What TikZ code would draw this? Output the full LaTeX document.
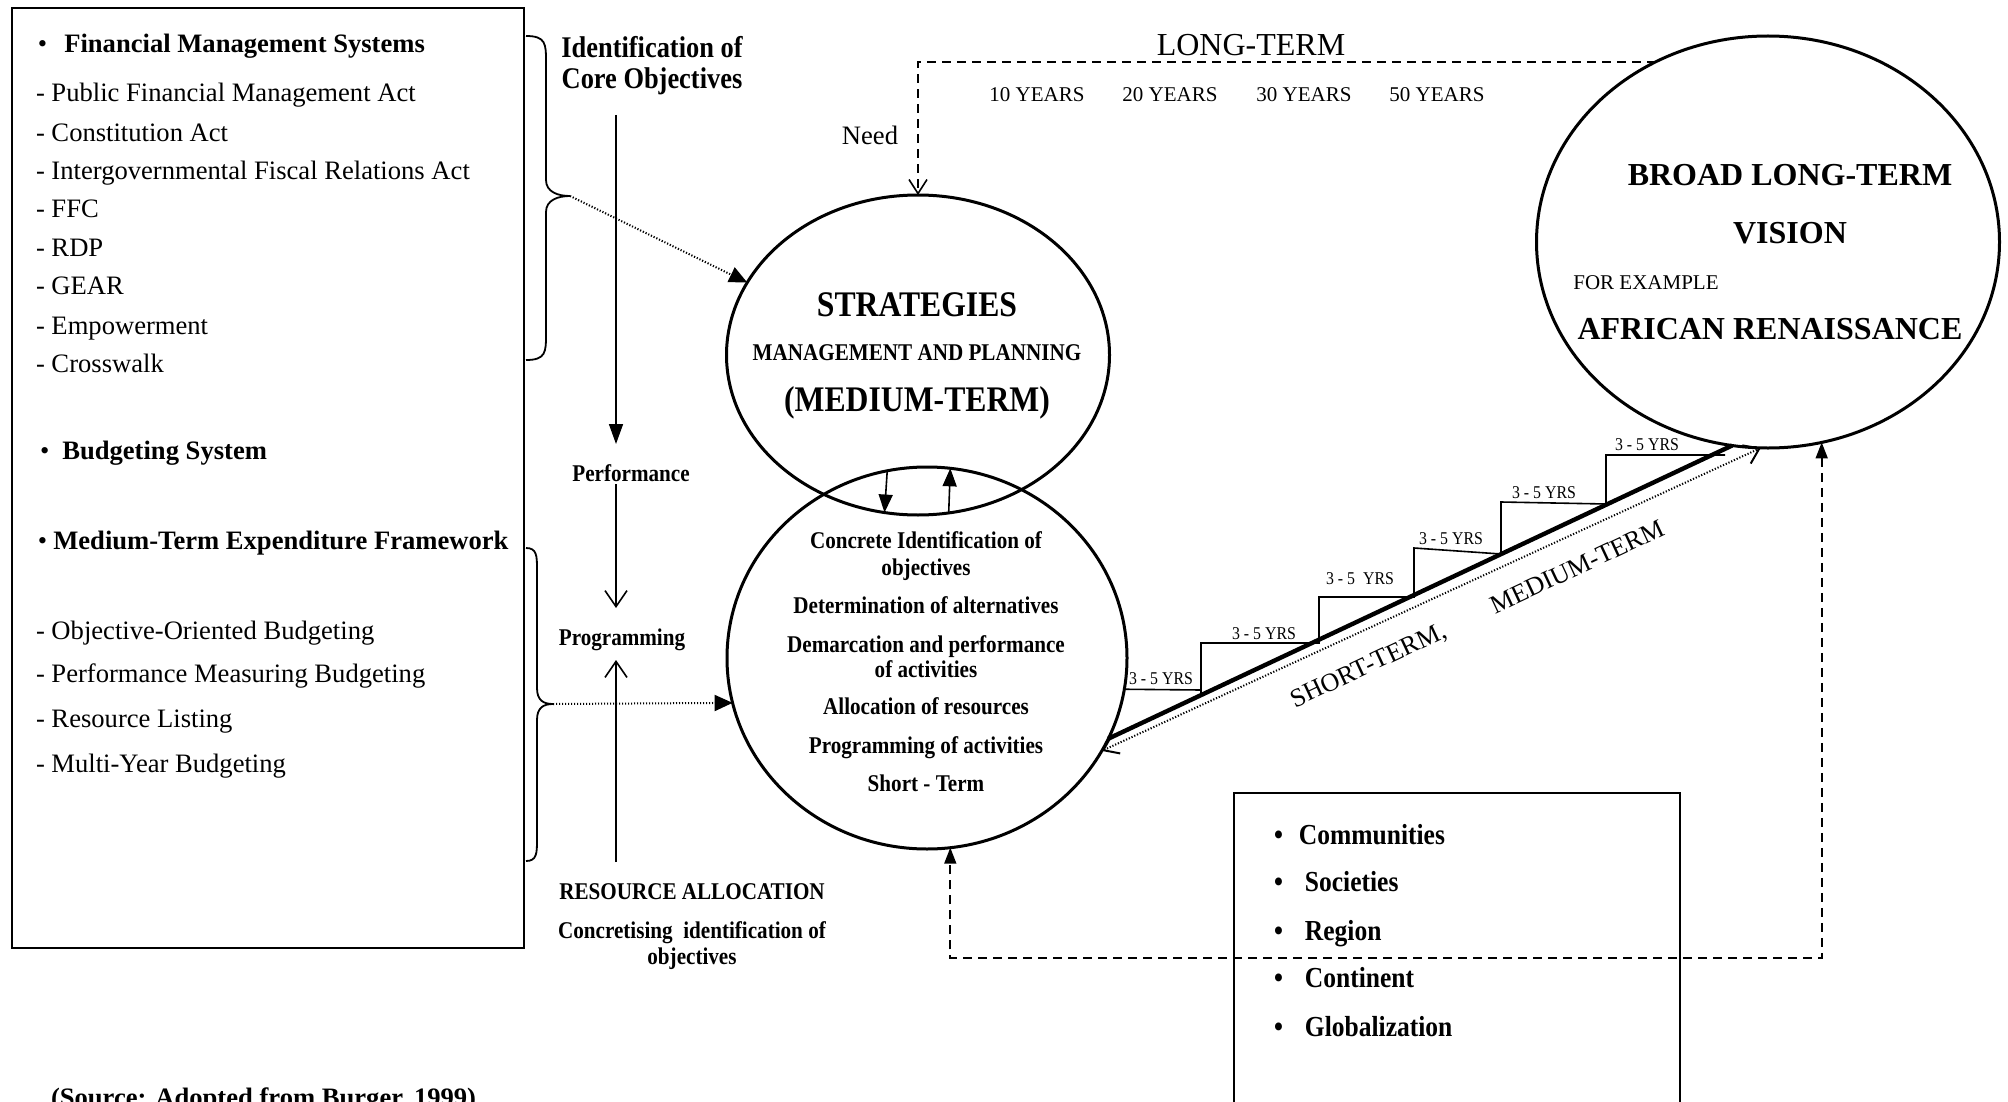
\documentclass[tikz,border=0pt]{standalone}
\usepackage{fontspec}
\setmainfont{Liberation Serif}
\newfontfamily\condfont[FakeStretch=0.88]{Liberation Serif}
\usetikzlibrary{arrows.meta,shapes.geometric}
\begin{document}
\begin{tikzpicture}[x=0.5pt,y=-0.5pt,
  every node/.style={inner sep=0pt,outer sep=0pt},
  tx/.style={anchor=mid,yshift=-2.8pt},
  lt/.style={tx,anchor=mid west,font=\fontsize{13.3}{15}\selectfont},
  cb/.style={tx,font=\condfont\bfseries\fontsize{12}{13.5}\selectfont},
  bx/.style={tx,anchor=mid west,font=\condfont\bfseries\fontsize{14.5}{16}\selectfont},
  yrs/.style={anchor=mid,font=\condfont\fontsize{9}{10}\selectfont},
  rg/.style={tx,font=\fontsize{10.5}{12}\selectfont},
  oval/.style={draw,ellipse,line width=1.5pt,inner sep=0pt,outer sep=0pt},
  frame/.style={draw,line width=1.4pt,anchor=north west,inner sep=0pt},
  dsh/.style={line width=0.8pt,dash pattern=on 4.5pt off 3pt},
  dots/.style={line width=1pt,dash pattern=on 0.6pt off 0.9pt},
  arr/.style={line width=0.8pt},
  tri/.style={-{Triangle[length=10pt,width=7pt]}},
  barb/.style={-{Straight Barb[length=8pt,width=11pt]}},
  stairs/.style={line width=0.8pt}
]
\path[use as bounding box,fill=white] (0,0) rectangle (2008,1102);

% ---------- left box ----------
\node[frame,minimum width=256pt,minimum height=470pt] (lbox) at (12,8) {};
\node[lt] (l1) at (38,42) {\textbullet\hspace{8.5pt}\textbf{Financial Management Systems}};
\node[lt] (l2) at (36,91) {- Public Financial Management Act};
\node[lt] (l3) at (36,131) {- Constitution Act};
\node[lt] (l4) at (36,169) {- Intergovernmental Fiscal Relations Act};
\node[lt] (l5) at (36,207) {- FFC};
\node[lt] (l6) at (36,246) {- RDP};
\node[lt] (l7) at (36,284) {- GEAR};
\node[lt] (l8) at (36,324) {- Empowerment};
\node[lt] (l9) at (36,362) {- Crosswalk};
\node[lt] (l10) at (40,449) {\textbullet\hspace{6.5pt}\textbf{Budgeting System}};
\node[lt] (l11) at (38,539) {\textbullet\hspace{3pt}\textbf{Medium-Term Expenditure Framework}};
\node[lt] (l12) at (36,629) {- Objective-Oriented Budgeting};
\node[lt] (l13) at (36,672) {- Performance Measuring Budgeting};
\node[lt] (l14) at (36,717) {- Resource Listing};
\node[lt] (l15) at (36,762) {- Multi-Year Budgeting};

% ---------- braces ----------
\coordinate (b1) at (570,196);
\coordinate (b2) at (553,704);
\draw[line width=0.9pt] (526,36) .. controls (546,36) and (546,44) .. (546,62) -- (546,180)
  .. controls (546,192) and (558,196) .. (b1) .. controls (558,196) and (546,200) .. (546,212)
  -- (546,334) .. controls (546,352) and (546,360) .. (526,360);
\draw[line width=0.9pt] (526,548) .. controls (537,548) and (537,556) .. (537,570) -- (537,688)
  .. controls (537,700) and (543,704) .. (b2) .. controls (543,704) and (537,708) .. (537,720)
  -- (537,839) .. controls (537,853) and (537,861) .. (526,861);

% ---------- middle column ----------
\node[tx,font=\condfont\bfseries\fontsize{15}{17}\selectfont] (idf1) at (652,47) {Identification of};
\node[tx,font=\condfont\bfseries\fontsize{15}{17}\selectfont] (idf2) at (652,78) {Core Objectives};
\node[cb] (perf) at (631,471) {Performance};
\node[cb] (prog) at (622,635) {Programming};
\node[cb] (ra) at (692,889) {RESOURCE ALLOCATION};
\node[cb] (ci1) at (692,928) {Concretising\ \ identification of};
\node[cb] (ci2) at (692,954) {objectives};
\coordinate (a1s) at (616,115);
\coordinate (a1e) at (616,444);
\coordinate (a2s) at (616,484);
\coordinate (a2e) at (616,608);
\coordinate (a3s) at (616,862);
\coordinate (a3e) at (616,660);
\draw[arr,tri] (a1s) -- (a1e);
\draw[arr,barb] (a2s) -- (a2e);
\draw[arr,barb] (a3s) -- (a3e);

% ---------- circles ----------
\node[oval,minimum width=191.5pt,minimum height=160pt] (strat) at (918,355) {};
\node[oval,minimum width=200pt,minimum height=191pt] (obj) at (927,658) {};
\node[oval,minimum width=231.5pt,minimum height=206pt] (vision) at (1768,242) {};

\node[tx,font=\condfont\bfseries\fontsize{18}{20}\selectfont] (s1) at (917,306) {STRATEGIES};
\node[cb] (s2) at (917,350) {MANAGEMENT AND PLANNING};
\node[tx,font=\condfont\bfseries\fontsize{18}{20}\selectfont] (s3) at (917,401) {(MEDIUM-TERM)};

\node[cb] (o1) at (926,538) {Concrete Identification of};
\node[cb] (o2) at (926,565) {objectives};
\node[cb] (o3) at (926,603) {Determination of alternatives};
\node[cb] (o4) at (926,642) {Demarcation and performance};
\node[cb] (o5) at (926,667) {of activities};
\node[cb] (o6) at (926,704) {Allocation of resources};
\node[cb] (o7) at (926,743) {Programming of activities};
\node[cb] (o8) at (926,781) {Short - Term};

\node[tx,font=\bfseries\fontsize{16}{18}\selectfont] (v1) at (1790,175) {BROAD LONG-TERM};
\node[tx,font=\bfseries\fontsize{16}{18}\selectfont] (v2) at (1790,233) {VISION};
\node[rg] (v3) at (1646,279) {FOR EXAMPLE};
\node[tx,font=\bfseries\fontsize{16}{18}\selectfont] (v4) at (1770,329) {AFRICAN RENAISSANCE};

% ---------- long-term ----------
\node[tx,font=\fontsize{16}{18}\selectfont] (lt) at (1251,45) {LONG-TERM};
\node[rg] (y10) at (1037,91) {10 YEARS};
\node[rg] (y20) at (1170,91) {20 YEARS};
\node[rg] (y30) at (1304,91) {30 YEARS};
\node[rg] (y50) at (1437,91) {50 YEARS};
\node[tx,font=\fontsize{13.3}{15}\selectfont] (need) at (870,134) {Need};
\draw[dsh,-{Straight Barb[length=7pt,width=9pt]}] (vision.122.6) -| (strat.north);

% ---------- connectors between circles ----------
\draw[arr,-{Triangle[length=9pt,width=7pt]}] (obj.102.1) -- (strat.258.9);
\draw[arr,-{Triangle[length=9pt,width=7pt]}] (strat.281.45) -- (obj.83.1);
\draw[dots,-{Triangle[length=9pt,width=8pt]}] (b1) -- (strat.157);
\draw[dots,-{Triangle[length=9pt,width=8pt]}] (b2) -- (obj.193.3);

% ---------- staircase ----------
\draw[line width=2.2pt] (obj.-24.25) -- (vision.-100.2);
\draw[dots,{Straight Barb[length=7pt,width=10pt]}-{Straight Barb[length=7pt,width=10pt]}] (obj.-28.3) -- (vision.-92);
\draw[stairs] (obj.-9.2) -- (1201,690);
\draw[stairs] (1201,696) -- (1201,643) -- (1319,643) -- (1319,597) -- (1414,597) -- (1414,548)
  -- (1501,554) -- (1501,502) -- (1606,504) -- (1606,455) -- (1725,455);
\node[yrs] (st1) at (1161,680) {3 - 5 YRS};
\node[yrs] (st2) at (1264,635) {3 - 5 YRS};
\node[yrs] (st3) at (1360,580) {3 - 5\ \ YRS};
\node[yrs] (st4) at (1451,540) {3 - 5 YRS};
\node[yrs] (st5) at (1544,494) {3 - 5 YRS};
\node[yrs] (st6) at (1647,446) {3 - 5 YRS};
\node[rotate=25.1,anchor=mid,font=\fontsize{13}{15}\selectfont] (stmt) at (1479,617) {SHORT-TERM,\hspace{26pt}MEDIUM-TERM};

% ---------- bottom dashed feedback ----------
\coordinate (lowy) at (0,958);
\draw[dsh,{Triangle[length=8pt,width=6pt]}-{Triangle[length=8pt,width=6pt]}] (vision.-75) -- (vision.-75 |- lowy) -| (obj.-83.4);

% ---------- bottom right box ----------
\node[frame,line width=1.3pt,minimum width=223pt,minimum height=165pt] (rbox) at (1234,793) {};
\node[bx] (c1) at (1274,834) {\textbullet\hspace{8pt}Communities};
\node[bx] (c2) at (1274,881) {\textbullet\hspace{11pt}Societies};
\node[bx] (c3) at (1274,930) {\textbullet\hspace{11pt}Region};
\node[bx] (c4) at (1274,977) {\textbullet\hspace{11pt}Continent};
\node[bx] (c5) at (1274,1026) {\textbullet\hspace{11pt}Globalization};

% ---------- source ----------
\node[anchor=base west,font=\bfseries\fontsize{13.3}{15}\selectfont] (src) at (51,1106) {(Source: Adopted from Burger, 1999)};
\end{tikzpicture}
\end{document}
